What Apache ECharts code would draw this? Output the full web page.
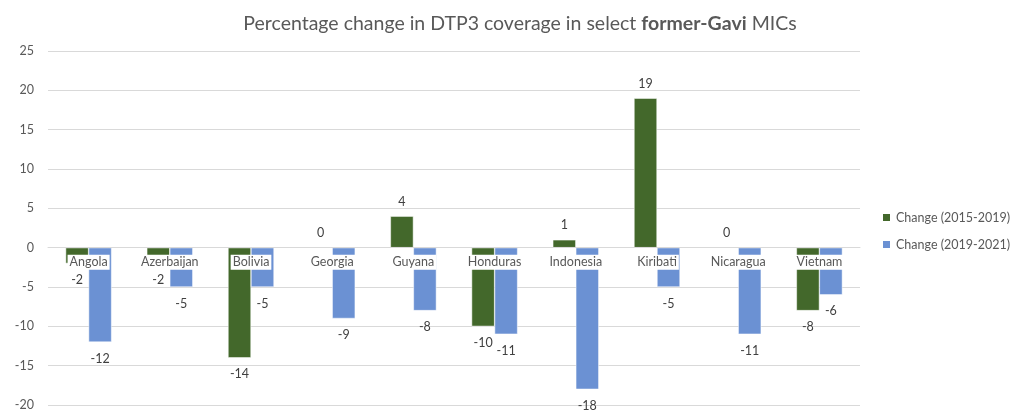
<!DOCTYPE html>
<html>
<head>
<meta charset="utf-8">
<script src="https://cdn.jsdelivr.net/npm/echarts@6/dist/echarts.min.js"></script>
<style>
  html, body { margin: 0; padding: 0; background: #fff; }
  #chart { width: 1026px; height: 412px; }
</style>
</head>
<body>
<div id="chart"></div>
<script>
const countries = ['Angola', 'Azerbaijan', 'Bolivia', 'Georgia', 'Guyana', 'Honduras', 'Indonesia', 'Kiribati', 'Nicaragua', 'Vietnam'];
const change2015to2019 = [-2, -2, -14, 0, 4, -10, 1, 19, 0, -8];
const change2019to2021 = [-12, -5, -5, -9, -8, -11, -18, -5, -11, -6];
const yTicks = [-20, 25, 5]; // min, max, step

const font = 'Lato, "Open Sans", sans-serif';
const gridBottom = 7;

// put the value label past the end of the bar
const withLabels = (arr) => arr.map((v) => ({
  value: v,
  label: v < 0 ? { position: 'bottom', distance: 10 } : { position: 'top', distance: 8 },
}));

const chart = echarts.init(document.getElementById('chart'));
chart.setOption({
  animation: false,
  textStyle: { fontFamily: font },
  color: ['#43682b', '#6b91d3'],
  title: {
    text: 'Percentage change in DTP3 coverage in select {b|former-Gavi} MICs',
    left: 515,
    textAlign: 'center',
    top: 9,
    textStyle: {
      fontFamily: font,
      fontSize: 19.5,
      fontWeight: 'normal',
      color: '#595959',
      rich: {
        b: { fontFamily: font, fontSize: 19.5, fontWeight: 'bold', color: '#595959' },
      },
    },
  },
  legend: {
    orient: 'vertical',
    left: 876,
    top: 206,
    itemWidth: 9,
    itemHeight: 9,
    itemGap: 14,
    icon: 'rect',
    textStyle: { fontFamily: font, fontSize: 12.5, color: '#595959' },
  },
  grid: {
    left: 48,
    right: 166,
    top: 51,
    bottom: gridBottom,
    containLabel: false,
    outerBoundsMode: 'none',
  },
  xAxis: {
    type: 'category',
    data: countries,
    z: 5,
    position: 'bottom',
    offset: 0,
    axisLine: { onZero: false, lineStyle: { color: '#d9d9d9' } },
    axisTick: { show: false },
    axisLabel: {
      fontFamily: font,
      fontSize: 12.5,
      color: '#595959',
      margin: 7,
      backgroundColor: '#fff',
      padding: [1, 2],
    },
  },
  yAxis: {
    type: 'value',
    min: yTicks[0],
    max: yTicks[1],
    interval: yTicks[2],
    axisLine: { show: false },
    axisTick: { show: false },
    axisLabel: { fontFamily: font, fontSize: 12.5, color: '#595959', margin: 14 },
    splitLine: { lineStyle: { color: '#d9d9d9' } },
  },
  series: [
    {
      name: 'Change (2015-2019)',
      type: 'bar',
      barWidth: 23,
      barGap: '0%',
      data: withLabels(change2015to2019),
      itemStyle: { borderColor: '#fff', borderWidth: 0.5 },
      label: { show: true, fontFamily: font, fontSize: 12.5, color: '#404040' },
    },
    {
      name: 'Change (2019-2021)',
      type: 'bar',
      barWidth: 23,
      barGap: '0%',
      data: withLabels(change2019to2021),
      itemStyle: { borderColor: '#fff', borderWidth: 0.5 },
      label: { show: true, fontFamily: font, fontSize: 12.5, color: '#404040' },
    },
  ],
});

// move the category axis up to the zero line
const zeroY = chart.convertToPixel({ yAxisIndex: 0 }, 0);
const bottomY = chart.getHeight() - gridBottom;
chart.setOption({ xAxis: { offset: -(bottomY - zeroY) } });

window.addEventListener('resize', () => {
  chart.resize();
});
</script>
</body>
</html>
